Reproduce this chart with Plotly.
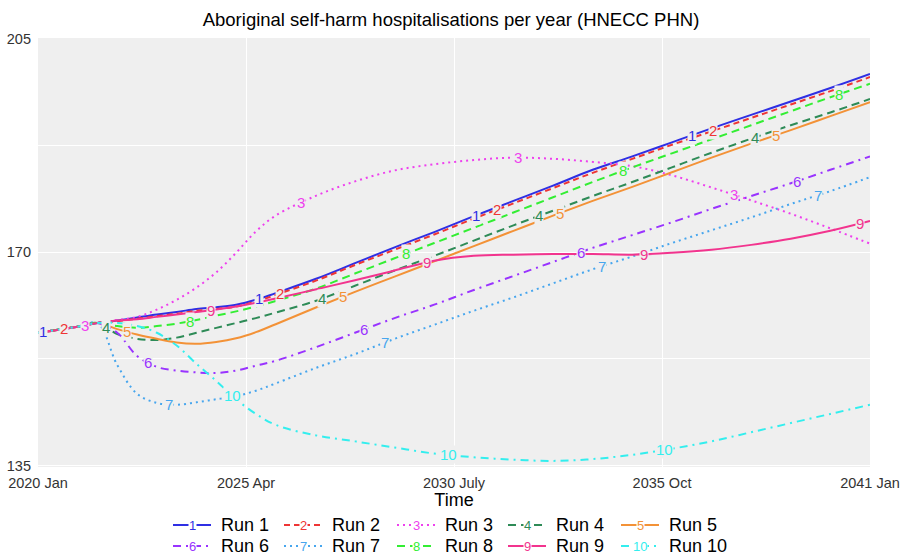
import numpy as np
import plotly.graph_objects as go

# Time axis: years since January 2020
t_years = [0, 1, 1.5, 2, 2.5, 3, 3.5, 4, 4.5, 5, 5.5, 6, 7, 8, 9, 10,
           11, 12, 13, 14, 15, 16, 17, 18, 19, 20, 21]

# Hospitalisations per year for each simulation run
run_1 = [156.8, 157.8, 158.4, 158.8, 159.3, 159.8, 160.2, 160.7, 161.0, 161.4, 162.2, 163.3,
         165.6, 168.2, 170.8, 173.3, 175.9, 178.4, 180.9, 183.5, 185.7, 188.0, 190.3, 192.5,
         194.7, 196.9, 199.2]
run_2 = [156.8, 157.8, 158.4, 158.7, 159.1, 159.5, 159.9, 160.4, 160.7, 161.1, 161.9, 163.0,
         165.3, 167.9, 170.4, 172.9, 175.5, 178.0, 180.5, 183.0, 185.3, 187.6, 189.8, 192.0,
         194.2, 196.4, 198.7]
run_3 = [156.8, 157.8, 158.4, 158.9, 159.4, 160.6, 162.2, 164.2, 166.7, 169.9, 173.4, 176.0,
         179.2, 181.6, 183.4, 184.4, 185.1, 185.5, 185.3, 184.8, 184.1, 182.6, 180.6, 178.5,
         176.3, 173.9, 171.4]
run_4 = [156.8, 157.8, 158.4, 156.6, 155.8, 155.6, 156.0, 156.8, 157.6, 158.4, 159.2, 160.1,
         162.0, 164.5, 167.0, 169.4, 171.9, 174.4, 176.8, 179.2, 181.5, 183.9, 186.3, 188.6,
         190.8, 192.9, 195.1]
run_5 = [156.8, 157.8, 158.4, 157.4, 156.5, 155.8, 155.2, 155.0, 155.3, 155.9, 156.9, 158.2,
         160.9, 163.5, 166.0, 168.5, 171.0, 173.5, 176.0, 178.4, 180.7, 183.1, 185.5, 187.8,
         190.0, 192.3, 194.6]
run_6 = [156.8, 157.8, 158.4, 156.8, 153.0, 151.2, 150.6, 150.3, 150.2, 150.6, 151.4, 152.2,
         154.4, 156.8, 159.2, 161.4, 163.8, 166.1, 168.4, 170.7, 172.8, 174.9, 177.1, 179.2,
         181.3, 183.5, 185.7]
run_7 = [156.8, 157.8, 158.4, 151.5, 146.8, 145.3, 145.0, 145.4, 145.9, 146.4, 147.3, 148.5,
         151.0, 153.3, 155.8, 158.1, 160.4, 162.6, 164.9, 167.2, 169.3, 171.5, 173.6, 175.7,
         177.9, 180.0, 182.3]
run_8 = [156.8, 157.8, 158.4, 157.9, 157.6, 157.9, 158.3, 158.9, 159.6, 160.3, 161.1, 162.0,
         164.0, 166.5, 169.0, 171.5, 174.0, 176.5, 179.0, 181.5, 183.9, 186.2, 188.5, 190.8,
         193.1, 195.4, 197.6]
run_9 = [156.8, 157.8, 158.4, 158.8, 159.0, 159.4, 159.8, 160.2, 160.6, 161.1, 161.7, 162.4,
         163.9, 165.4, 167.0, 168.6, 169.4, 169.6, 169.7, 169.7, 169.6, 169.9, 170.4, 171.2,
         172.2, 173.5, 175.1]
run_10 = [156.8, 157.8, 158.4, 158.4, 157.9, 156.8, 154.7, 151.7, 148.9, 145.9, 143.5, 141.7,
          140.0, 139.0, 138.0, 137.0, 136.4, 136.0, 135.8, 136.1, 136.8, 137.8, 139.0, 140.5,
          142.0, 143.5, 145.0]

series = [run_1, run_2, run_3, run_4, run_5, run_6, run_7, run_8, run_9, run_10]
run_names = [f"Run {i}" for i in range(1, 11)]
run_colors = ["#2F2FE4", "#EE3535", "#EE40EE", "#2E8B57", "#F39237",
              "#9933FF", "#47A6EE", "#33EE33", "#F2348E", "#33EEEE"]
run_dashes = ["solid", "6px,4px", "2px,4px", "8px,5px", "solid",
              "8px,5px,2px,5px", "2px,4px", "8px,5px", "solid", "8px,5px,2px,5px"]

tick_years = [0, 5.25, 10.5, 15.75, 21]
tick_labels = ["2020 Jan", "2025 Apr", "2030 July", "2035 Oct", "2041 Jan"]
y_grid = [135, 152.5, 170, 187.5, 205]
y_labels = ["135", "", "170", "", "205"]

W, H = 902, 556
M = dict(l=38, r=32, t=38, b=89)
PANEL = "#EFEFEF"
FONT = "Liberation Sans, Arial, sans-serif"


def px_x(px):
    """Figure pixel column -> paper x."""
    return (px - M["l"]) / (W - M["l"] - M["r"])


def px_y(py):
    """Figure pixel row -> paper y."""
    return (H - M["b"] - py) / (H - M["t"] - M["b"])


fig = go.Figure()

for name, ys, col, dash in zip(run_names, series, run_colors, run_dashes):
    fig.add_trace(go.Scatter(
        x=t_years, y=ys, mode="lines", name=name, showlegend=False,
        line=dict(color=col, dash=dash, width=2, shape="spline", smoothing=1.0),
    ))

# Run numbers repeated along each curve
LABEL_START, LABEL_SHIFT, LABEL_SPACING = 0.13, 0.53, 5.46
for k, (ys, col) in enumerate(zip(series, run_colors), start=1):
    xl = LABEL_START + LABEL_SHIFT * (k - 1)
    while xl < 20.95:
        fig.add_annotation(
            x=xl, y=float(np.interp(xl, t_years, ys)), xref="x", yref="y",
            xanchor="center", yanchor="middle",
            text=str(k), showarrow=False, bgcolor=PANEL, borderpad=0,
            font=dict(family=FONT, size=15, color=col),
        )
        xl += LABEL_SPACING

# Legend: two rows of five keys below the axis title
legend_cols = [173, 284, 397, 508, 621]
legend_rows = [525, 546]
KEY_W = 38
for i, (name, col, dash) in enumerate(zip(run_names, run_colors, run_dashes)):
    cx = legend_cols[i % 5]
    ry = px_y(legend_rows[i // 5])
    fig.add_shape(type="line", xref="paper", yref="paper",
                  x0=px_x(cx), x1=px_x(cx + KEY_W), y0=ry, y1=ry,
                  line=dict(color=col, dash=dash, width=1.8))
    fig.add_annotation(x=px_x(cx + KEY_W / 2), y=ry, xref="paper", yref="paper",
                       xanchor="center", yanchor="middle",
                       text=str(i + 1), showarrow=False, bgcolor="white", borderpad=0,
                       font=dict(family=FONT, size=13, color=col))
    fig.add_annotation(x=px_x(cx + KEY_W + 8), y=ry, xref="paper", yref="paper",
                       xanchor="left", yanchor="middle", text=name, showarrow=False,
                       font=dict(family=FONT, size=18, color="black"))

fig.update_layout(
    width=W, height=H, margin=M, template="none",
    paper_bgcolor="white", plot_bgcolor=PANEL,
    font=dict(family=FONT, color="black"),
    showlegend=False,
    title=dict(text="Aboriginal self-harm hospitalisations per year (HNECC PHN)",
               x=0.5, xanchor="center", y=1 - 20 / H, yanchor="middle", yref="container",
               font=dict(family=FONT, size=18.5, color="black")),
    xaxis=dict(range=[0, 21], tickmode="array", tickvals=tick_years, ticktext=tick_labels,
               showgrid=True, gridcolor="white", gridwidth=1.3, zeroline=False,
               showline=False, ticks="", ticklabelstandoff=5,
               tickfont=dict(family=FONT, size=14.5, color="#333333"),
               title=dict(text="Time", standoff=2, font=dict(family=FONT, size=18, color="black"))),
    yaxis=dict(range=[134.8, 205.1], tickmode="array", tickvals=y_grid, ticktext=y_labels,
               showgrid=True, gridcolor="white", gridwidth=1.3, zeroline=False,
               showline=False, ticks="", ticklabelstandoff=6,
               tickfont=dict(family=FONT, size=14.5, color="#333333")),
)

fig.write_html("out.html")
